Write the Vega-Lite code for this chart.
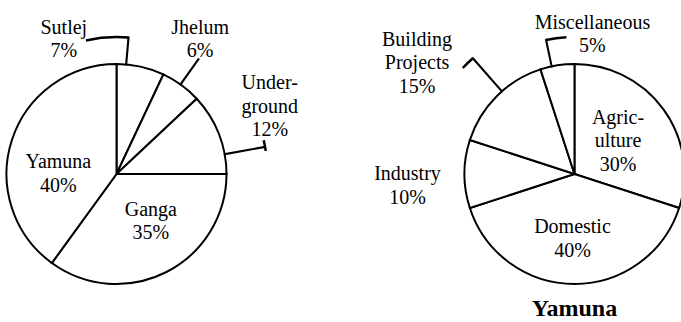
{
  "$schema": "https://vega.github.io/schema/vega-lite/v6.json",
  "width": 681,
  "height": 296,
  "padding": {"top": 26, "left": 0, "right": 0, "bottom": 0},
  "autosize": {"type": "none"},
  "background": "white",
  "config": {
    "font": "Liberation Serif",
    "view": {"stroke": null},
    "text": {"fontSize": 20, "lineHeight": 23.5, "color": "black"}
  },
  "data": {
    "values": [
      {"chart": "Sources", "rank": 1, "cat": "Sutlej", "value": 7, "label": ["Sutlej", "7%"]},
      {"chart": "Sources", "rank": 2, "cat": "Jhelum", "value": 6, "label": ["Jhelum", "6%"]},
      {"chart": "Sources", "rank": 3, "cat": "Underground", "value": 12, "label": ["Under-", "ground", "12%"]},
      {"chart": "Sources", "rank": 4, "cat": "Ganga", "value": 35, "label": ["Ganga", "35%"]},
      {"chart": "Sources", "rank": 5, "cat": "Yamuna", "value": 40, "label": ["Yamuna", "40%"]},
      {"chart": "Yamuna", "rank": 1, "cat": "Agriculture", "value": 30, "label": ["Agric-", "ulture", "30%"]},
      {"chart": "Yamuna", "rank": 2, "cat": "Domestic", "value": 40, "label": ["Domestic", "40%"]},
      {"chart": "Yamuna", "rank": 3, "cat": "Industry", "value": 10, "label": ["Industry", "10%"]},
      {"chart": "Yamuna", "rank": 4, "cat": "Building Projects", "value": 15, "label": ["Building", "Projects", "15%"]},
      {"chart": "Yamuna", "rank": 5, "cat": "Miscellaneous", "value": 5, "label": ["Miscellaneous", "5%"]}
    ]
  },
  "encoding": {
    "x": {
      "field": "chart",
      "type": "nominal",
      "scale": {"type": "point", "domain": ["Sources", "Yamuna"], "padding": 0.2435, "align": 0.5224},
      "axis": null
    }
  },
  "layer": [
    {
      "transform": [{"filter": {"field": "chart", "equal": "Sources"}}],
      "mark": {"type": "arc", "outerRadius": 110, "fill": "white", "stroke": "black", "strokeWidth": 2},
      "encoding": {
        "theta": {"field": "value", "type": "quantitative", "stack": true},
        "order": {"field": "rank", "type": "quantitative"}
      }
    },
    {
      "transform": [{"filter": {"field": "chart", "equal": "Yamuna"}}],
      "mark": {"type": "arc", "outerRadius": 110, "fill": "white", "stroke": "black", "strokeWidth": 2},
      "encoding": {
        "theta": {"field": "value", "type": "quantitative", "stack": true},
        "order": {"field": "rank", "type": "quantitative"}
      }
    },
    {
      "transform": [{"filter": {"field": "cat", "equal": "Sutlej"}}],
      "mark": {"type": "arc", "theta": -0.2251, "theta2": 0.0873, "innerRadius": 137, "outerRadius": 137, "fill": null, "stroke": "black", "strokeWidth": 2.5},
      "encoding": {}
    },
    {
      "transform": [{"filter": {"field": "cat", "equal": "Sutlej"}}],
      "mark": {"type": "arc", "theta": 0.0873, "theta2": 0.0883, "innerRadius": 110, "outerRadius": 137, "fill": null, "stroke": "black", "strokeWidth": 2},
      "encoding": {}
    },
    {
      "transform": [{"filter": {"field": "cat", "equal": "Jhelum"}}],
      "mark": {"type": "arc", "theta": 0.6196, "theta2": 0.6206, "innerRadius": 110, "outerRadius": 141, "fill": null, "stroke": "black", "strokeWidth": 2},
      "encoding": {}
    },
    {
      "transform": [{"filter": {"field": "cat", "equal": "Underground"}}],
      "mark": {"type": "arc", "theta": 1.3893, "theta2": 1.3903, "innerRadius": 110, "outerRadius": 150, "fill": null, "stroke": "black", "strokeWidth": 2},
      "encoding": {}
    },
    {
      "transform": [{"filter": {"field": "cat", "equal": "Underground"}}],
      "mark": {"type": "arc", "theta": 1.3456, "theta2": 1.4172, "innerRadius": 151, "outerRadius": 151, "fill": null, "stroke": "black", "strokeWidth": 2.5},
      "encoding": {}
    },
    {
      "transform": [{"filter": {"field": "cat", "equal": "Building Projects"}}],
      "mark": {"type": "arc", "theta": -0.7208, "theta2": -0.7198, "innerRadius": 110, "outerRadius": 154, "fill": null, "stroke": "black", "strokeWidth": 2},
      "encoding": {}
    },
    {
      "transform": [{"filter": {"field": "cat", "equal": "Building Projects"}}],
      "mark": {"type": "arc", "theta": -0.8116, "theta2": -0.7208, "innerRadius": 154, "outerRadius": 154, "fill": null, "stroke": "black", "strokeWidth": 2.5},
      "encoding": {}
    },
    {
      "transform": [{"filter": {"field": "cat", "equal": "Miscellaneous"}}],
      "mark": {"type": "arc", "theta": -0.2094, "theta2": -0.2084, "innerRadius": 110, "outerRadius": 137, "fill": null, "stroke": "black", "strokeWidth": 2},
      "encoding": {}
    },
    {
      "transform": [{"filter": {"field": "cat", "equal": "Miscellaneous"}}],
      "mark": {"type": "arc", "theta": -0.2094, "theta2": -0.0593, "innerRadius": 137, "outerRadius": 137, "fill": null, "stroke": "black", "strokeWidth": 2.5},
      "encoding": {}
    },
    {
      "transform": [{"filter": {"field": "chart", "equal": "Sources"}}],
      "mark": {"type": "text", "radius": 148, "dx": -85, "dy": -2},
      "encoding": {
        "theta": {"field": "value", "type": "quantitative", "stack": true},
        "order": {"field": "rank", "type": "quantitative"},
        "text": {"condition": {"test": {"field": "cat", "equal": "Sutlej"}, "field": "label"}, "value": ""}
      }
    },
    {
      "transform": [{"filter": {"field": "chart", "equal": "Sources"}}],
      "mark": {"type": "text", "radius": 161, "dx": -11, "dy": -16},
      "encoding": {
        "theta": {"field": "value", "type": "quantitative", "stack": true},
        "order": {"field": "rank", "type": "quantitative"},
        "text": {"condition": {"test": {"field": "cat", "equal": "Jhelum"}, "field": "label"}, "value": ""}
      }
    },
    {
      "transform": [{"filter": {"field": "chart", "equal": "Sources"}}],
      "mark": {"type": "text", "radius": 168, "dx": -3, "dy": -29},
      "encoding": {
        "theta": {"field": "value", "type": "quantitative", "stack": true},
        "order": {"field": "rank", "type": "quantitative"},
        "text": {"condition": {"test": {"field": "cat", "equal": "Underground"}, "field": "label"}, "value": ""}
      }
    },
    {
      "transform": [{"filter": {"field": "chart", "equal": "Sources"}}],
      "mark": {"type": "text", "radius": 58, "dx": 8, "dy": -16},
      "encoding": {
        "theta": {"field": "value", "type": "quantitative", "stack": true},
        "order": {"field": "rank", "type": "quantitative"},
        "text": {"condition": {"test": {"field": "cat", "equal": "Ganga"}, "field": "label"}, "value": ""}
      }
    },
    {
      "transform": [{"filter": {"field": "chart", "equal": "Sources"}}],
      "mark": {"type": "text", "radius": 58, "dx": -3, "dy": 6},
      "encoding": {
        "theta": {"field": "value", "type": "quantitative", "stack": true},
        "order": {"field": "rank", "type": "quantitative"},
        "text": {"condition": {"test": {"field": "cat", "equal": "Yamuna"}, "field": "label"}, "value": ""}
      }
    },
    {
      "transform": [{"filter": {"field": "chart", "equal": "Yamuna"}}],
      "mark": {"type": "text", "radius": 55, "dx": -1, "dy": -24},
      "encoding": {
        "theta": {"field": "value", "type": "quantitative", "stack": true},
        "order": {"field": "rank", "type": "quantitative"},
        "text": {"condition": {"test": {"field": "cat", "equal": "Agriculture"}, "field": "label"}, "value": ""}
      }
    },
    {
      "transform": [{"filter": {"field": "chart", "equal": "Yamuna"}}],
      "mark": {"type": "text", "radius": 63, "dx": -2, "dy": -10},
      "encoding": {
        "theta": {"field": "value", "type": "quantitative", "stack": true},
        "order": {"field": "rank", "type": "quantitative"},
        "text": {"condition": {"test": {"field": "cat", "equal": "Domestic"}, "field": "label"}, "value": ""}
      }
    },
    {
      "transform": [{"filter": {"field": "chart", "equal": "Yamuna"}}],
      "mark": {"type": "text", "radius": 167, "dx": 0, "dy": 0},
      "encoding": {
        "theta": {"field": "value", "type": "quantitative", "stack": true},
        "order": {"field": "rank", "type": "quantitative"},
        "text": {"condition": {"test": {"field": "cat", "equal": "Industry"}, "field": "label"}, "value": ""}
      }
    },
    {
      "transform": [{"filter": {"field": "chart", "equal": "Yamuna"}}],
      "mark": {"type": "text", "radius": 193, "dx": -21, "dy": 2},
      "encoding": {
        "theta": {"field": "value", "type": "quantitative", "stack": true},
        "order": {"field": "rank", "type": "quantitative"},
        "text": {"condition": {"test": {"field": "cat", "equal": "Building Projects"}, "field": "label"}, "value": ""}
      }
    },
    {
      "transform": [{"filter": {"field": "chart", "equal": "Yamuna"}}],
      "mark": {"type": "text", "radius": 141, "dx": 40, "dy": -12},
      "encoding": {
        "theta": {"field": "value", "type": "quantitative", "stack": true},
        "order": {"field": "rank", "type": "quantitative"},
        "text": {"condition": {"test": {"field": "cat", "equal": "Miscellaneous"}, "field": "label"}, "value": ""}
      }
    },
    {
      "transform": [
        {"aggregate": [{"op": "count", "as": "n"}], "groupby": ["chart"]},
        {"filter": {"field": "chart", "equal": "Yamuna"}}
      ],
      "mark": {"type": "text", "dy": 135, "fontSize": 24, "fontWeight": "bold"},
      "encoding": {"text": {"field": "chart", "type": "nominal"}}
    }
  ]
}
